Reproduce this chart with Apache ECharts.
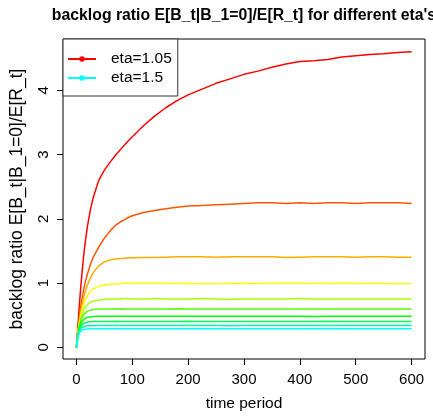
<!DOCTYPE html>
<html>
<head>
<meta charset="utf-8">
<script src="https://cdn.jsdelivr.net/npm/echarts@6/dist/echarts.min.js"></script>
<style>
  html, body { margin: 0; padding: 0; background: #fff; }
  #chart { width: 433px; height: 417px; }
</style>
</head>
<body>
<div id="chart"></div>
<script>
// time periods
const times = [0, 2, 4, 6, 8, 10, 13, 16, 20, 25, 30, 40, 50, 60, 70, 80, 90, 100,
  120, 140, 160, 180, 200, 225, 250, 275, 300, 325, 350, 375, 400, 425, 450, 475,
  500, 525, 550, 575, 600];

const etaNames = ['eta=1.05', 'eta=1.1', 'eta=1.15', 'eta=1.2', 'eta=1.25',
  'eta=1.3', 'eta=1.35', 'eta=1.4', 'eta=1.45', 'eta=1.5'];

const etaColors = ['#FF0000', '#FF5500', '#FFAA00', '#FFFF00', '#AAFF00',
  '#55FF00', '#00FF00', '#00FF55', '#00FFAA', '#00FFFF'];

const eta105 = [0, 0.25, 0.5, 0.74, 0.96, 1.16, 1.43, 1.65, 1.9, 2.14, 2.33, 2.6, 2.76, 2.88, 2.99, 3.09, 3.19, 3.28,
  3.45, 3.6, 3.73, 3.84, 3.93, 4.02, 4.11, 4.18, 4.25, 4.3, 4.36, 4.41, 4.45, 4.46, 4.48, 4.52,
  4.54, 4.56, 4.57, 4.59, 4.60];
const eta110 = [0, 0.2, 0.37, 0.52, 0.65, 0.76, 0.9, 1.02, 1.15, 1.29, 1.4, 1.56, 1.7, 1.81, 1.9, 1.96, 2.01, 2.05,
  2.1, 2.13, 2.16, 2.18, 2.2, 2.21, 2.22, 2.23, 2.24, 2.25, 2.25, 2.24, 2.25, 2.24, 2.25, 2.25,
  2.24, 2.25, 2.25, 2.25, 2.24];
const eta115 = [0, 0.18, 0.33, 0.46, 0.57, 0.66, 0.78, 0.88, 0.98, 1.08, 1.16, 1.27, 1.33, 1.36, 1.375, 1.385, 1.39, 1.395,
  1.4, 1.4, 1.405, 1.41, 1.41, 1.41, 1.405, 1.41, 1.41, 1.41, 1.41, 1.40, 1.405, 1.41, 1.41, 1.41,
  1.405, 1.41, 1.41, 1.405, 1.405];
const eta120 = [0, 0.17, 0.31, 0.42, 0.51, 0.58, 0.67, 0.74, 0.81, 0.87, 0.91, 0.95, 0.975, 0.985, 0.99, 0.995, 1.0, 1.0,
  1.0, 1.0, 1.0, 0.995, 1.0, 0.99, 0.99, 0.995, 1.0, 0.995, 1.0, 1.0, 1.0, 0.995, 1.0, 1.0,
  1.0, 0.995, 0.995, 0.99, 0.99];
const eta125 = [0, 0.16, 0.29, 0.39, 0.46, 0.52, 0.58, 0.63, 0.67, 0.7, 0.72, 0.74, 0.748, 0.752, 0.755, 0.755, 0.76, 0.755,
  0.755, 0.76, 0.755, 0.755, 0.755, 0.76, 0.755, 0.75, 0.755, 0.755, 0.755, 0.755, 0.76, 0.755, 0.755, 0.755,
  0.755, 0.755, 0.755, 0.755, 0.755];
const eta130 = [0, 0.15, 0.27, 0.36, 0.42, 0.47, 0.51, 0.54, 0.565, 0.58, 0.59, 0.597, 0.6, 0.6, 0.6, 0.602, 0.6, 0.598,
  0.6, 0.6, 0.6, 0.602, 0.6, 0.6, 0.598, 0.6, 0.6, 0.6, 0.6, 0.6, 0.598, 0.6, 0.6, 0.6,
  0.6, 0.6, 0.6, 0.6, 0.598];
const eta135 = [0, 0.14, 0.25, 0.32, 0.37, 0.41, 0.44, 0.455, 0.468, 0.475, 0.48, 0.484, 0.485, 0.485, 0.486, 0.485, 0.485, 0.484,
  0.485, 0.485, 0.486, 0.485, 0.485, 0.485, 0.484, 0.485, 0.485, 0.486, 0.485, 0.485, 0.484, 0.483, 0.485, 0.485,
  0.485, 0.486, 0.485, 0.485, 0.485];
const eta140 = [0, 0.13, 0.23, 0.29, 0.33, 0.355, 0.375, 0.387, 0.395, 0.4, 0.403, 0.405, 0.405, 0.405, 0.406, 0.405, 0.405, 0.405,
  0.405, 0.404, 0.405, 0.405, 0.406, 0.405, 0.405, 0.405, 0.405, 0.404, 0.405, 0.405, 0.405, 0.405, 0.406, 0.405,
  0.405, 0.405, 0.405, 0.405, 0.405];
const eta145 = [0, 0.12, 0.21, 0.26, 0.29, 0.31, 0.323, 0.331, 0.336, 0.338, 0.339, 0.34, 0.34, 0.34, 0.341, 0.34, 0.34, 0.34,
  0.34, 0.34, 0.34, 0.341, 0.34, 0.34, 0.34, 0.339, 0.34, 0.34, 0.34, 0.34, 0.34, 0.34, 0.34, 0.341,
  0.34, 0.34, 0.34, 0.34, 0.34];
const eta150 = [0, 0.11, 0.19, 0.235, 0.258, 0.27, 0.279, 0.284, 0.287, 0.289, 0.29, 0.29, 0.29, 0.29, 0.29, 0.291, 0.29, 0.29,
  0.29, 0.29, 0.29, 0.29, 0.29, 0.291, 0.29, 0.29, 0.29, 0.29, 0.289, 0.29, 0.29, 0.29, 0.29, 0.29,
  0.29, 0.29, 0.291, 0.29, 0.29];

const etaValues = [eta105, eta110, eta115, eta120, eta125, eta130, eta135, eta140, eta145, eta150];

const xTicks = [0, 100, 200, 300, 400, 500, 600];
const yTicks = [0, 1, 2, 3, 4];

const font = '"Liberation Sans", Arial, Helvetica, sans-serif';

const chart = echarts.init(document.getElementById('chart'), null, { renderer: 'canvas' });

const series = etaValues.map((vals, i) => ({
  name: etaNames[i],
  type: 'line',
  data: times.map((t, j) => [t, vals[j]]),
  showSymbol: false,
  symbol: 'circle',
  symbolSize: 6,
  lineStyle: { color: etaColors[i], width: 1.5 },
  itemStyle: { color: etaColors[i] },
  emphasis: { disabled: true }
}));

chart.setOption({
  animation: false,
  backgroundColor: '#fff',
  graphic: [{
    type: 'text',
    x: 244,
    y: 16,
    style: {
      text: "backlog ratio E[B_t|B_1=0]/E[R_t] for different eta's",
      font: 'bold 15.8px ' + font,
      fill: '#000',
      textAlign: 'center',
      textVerticalAlign: 'middle'
    }
  }],
  legend: {
    data: ['eta=1.05', 'eta=1.5'],
    orient: 'vertical',
    left: 63,
    top: 39,
    padding: [12, 6, 10, 4],
    itemGap: 3,
    itemWidth: 28,
    itemHeight: 7,
    borderColor: '#333',
    borderWidth: 1,
    backgroundColor: '#fff',
    selectedMode: false,
    textStyle: { fontFamily: font, fontSize: 15.5, color: '#000', padding: [0, 0, 0, 10] }
  },
  grid: {
    left: 63, right: 8, top: 39, bottom: 55,
    show: true, borderColor: '#000', borderWidth: 1, backgroundColor: 'transparent'
  },
  xAxis: {
    type: 'value',
    min: -24,
    max: 624,
    name: 'time period',
    nameLocation: 'middle',
    nameGap: 37,
    nameTextStyle: { fontFamily: font, fontSize: 15.5, color: '#000' },
    axisLine: { show: false, onZero: false },
    splitLine: { show: false },
    axisTick: { show: true, inside: false, length: 6, lineStyle: { color: '#000' }, customValues: xTicks },
    axisLabel: { fontFamily: font, fontSize: 15, color: '#000', margin: 13, customValues: xTicks }
  },
  yAxis: {
    type: 'value',
    min: -0.18,
    max: 4.8,
    name: 'backlog ratio E[B_t|B_1=0]/E[R_t]',
    nameLocation: 'middle',
    nameGap: 37,
    nameTextStyle: { fontFamily: font, fontSize: 17.5, color: '#000' },
    axisLine: { show: false, onZero: false },
    splitLine: { show: false },
    axisTick: { show: true, inside: false, length: 6, lineStyle: { color: '#000' }, customValues: yTicks },
    axisLabel: { fontFamily: font, fontSize: 15, color: '#000', rotate: 90, margin: 12, customValues: yTicks }
  },
  series: series
});
</script>
</body>
</html>
